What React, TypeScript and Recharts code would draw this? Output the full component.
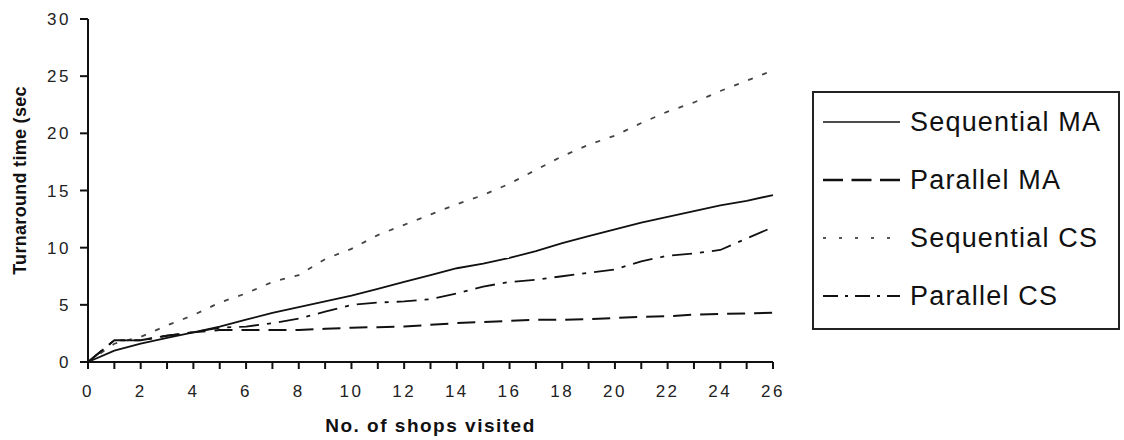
import React from 'react';
import { LineChart, Line, XAxis, YAxis } from 'recharts';

const shops = [0, 1, 2, 3, 4, 5, 6, 7, 8, 9, 10, 11, 12, 13, 14, 15, 16, 17, 18, 19, 20, 21, 22, 23, 24, 25, 26];
const sequentialMA = [0, 1.0, 1.6, 2.1, 2.6, 3.1, 3.7, 4.3, 4.8, 5.3, 5.8, 6.4, 7.0, 7.6, 8.2, 8.6, 9.1, 9.7, 10.4, 11.0, 11.6, 12.2, 12.7, 13.2, 13.7, 14.1, 14.6];
const parallelMA = [0, 1.9, 1.9, 2.3, 2.6, 2.8, 2.8, 2.8, 2.8, 2.9, 3.0, 3.05, 3.1, 3.25, 3.4, 3.5, 3.6, 3.7, 3.7, 3.75, 3.85, 3.95, 4.0, 4.15, 4.2, 4.25, 4.3];
const sequentialCS = [0, 1.6, 2.2, 3.2, 4.1, 5.2, 6.0, 7.0, 7.6, 9.0, 9.9, 11.1, 12.0, 12.9, 13.8, 14.6, 15.6, 16.8, 18.0, 19.0, 19.8, 20.9, 21.9, 22.7, 23.7, 24.6, 25.5];
const parallelCS = [0, 1.9, 1.9, 2.3, 2.6, 3.0, 3.1, 3.4, 3.8, 4.4, 5.0, 5.2, 5.3, 5.5, 6.0, 6.6, 7.0, 7.2, 7.5, 7.8, 8.1, 8.8, 9.3, 9.5, 9.8, 10.8, 11.8];
const yTicks = [0, 5, 10, 15, 20, 25, 30];
const xTicks = shops;

const seriesNames = ['Sequential MA', 'Parallel MA', 'Sequential CS', 'Parallel CS'];

const data = shops.map((s, i) => ({
  shops: s,
  seqMA: sequentialMA[i],
  parMA: parallelMA[i],
  seqCS: sequentialCS[i],
  parCS: parallelCS[i],
}));

const FONT = '"Liberation Sans", Arial, sans-serif';

const legendItems = [
  { name: seriesNames[0], dash: undefined as string | undefined, color: '#111', width: 1.6 },
  { name: seriesNames[1], dash: '20 8.5', color: '#111', width: 2.4 },
  { name: seriesNames[2], dash: '3 13', color: '#555', width: 1.8 },
  { name: seriesNames[3], dash: '15 7 3 7', color: '#111', width: 2.2 },
];

const LegendBox = () => (
  <div
    style={{
      position: 'absolute',
      left: 812,
      top: 91,
      width: 308,
      height: 239,
      border: '2px solid #222',
      boxSizing: 'border-box',
      fontFamily: FONT,
      background: '#fff',
    }}
  >
    {legendItems.map((it) => (
      <div key={it.name} style={{ height: 58, display: 'flex', alignItems: 'center' }}>
        <svg width={77} height={10} style={{ marginLeft: 9, marginRight: 10 }}>
          <line x1={0} y1={5} x2={77} y2={5} stroke={it.color} strokeWidth={it.width} strokeDasharray={it.dash} />
        </svg>
        <span style={{ fontSize: 27, letterSpacing: 1.2, color: '#111', lineHeight: 1 }}>{it.name}</span>
      </div>
    ))}
  </div>
);

const YTitle = (props: any) => {
  const vb = props.viewBox || {};
  const cx = vb.x - 8;
  const cy = vb.y + vb.height / 2 - 10;
  return (
    <text
      x={cx}
      y={cy}
      transform={`rotate(-90, ${cx}, ${cy})`}
      textAnchor="middle"
      dominantBaseline="central"
      style={{ fontFamily: FONT, fontSize: 18, fontWeight: 'bold', letterSpacing: 0.3, fill: '#111' }}
    >
      Turnaround time (sec
    </text>
  );
};

const XTitle = (props: any) => {
  const vb = props.viewBox || {};
  const cx = vb.x + vb.width / 2;
  const cy = vb.y + 63;
  return (
    <text
      x={cx}
      y={cy}
      textAnchor="middle"
      dominantBaseline="central"
      style={{ fontFamily: FONT, fontSize: 19, fontWeight: 'bold', letterSpacing: 1.5, fill: '#111' }}
    >
      No. of shops visited
    </text>
  );
};

export default function App() {
  return (
    <div style={{ position: 'absolute', left: 0, top: 0, width: 1124, height: 440, background: '#fff' }}>
      <LineChart
        width={1124}
        height={440}
        data={data}
        margin={{ top: 19, right: 351, bottom: 38, left: 28 }}
      >
        <XAxis
          dataKey="shops"
          type="number"
          domain={[0, 26]}
          ticks={xTicks}
          interval={0}
          tickFormatter={(v: number) => (v % 2 === 0 ? String(v) : '')}
          height={40}
          stroke="#111"
          strokeWidth={2}
          tickSize={7}
          tickMargin={16}
          tick={{ fill: '#222', fontSize: 17, fontFamily: FONT, letterSpacing: 2.5 }}
          tickLine={{ stroke: '#111', strokeWidth: 2 }}
          label={<XTitle />}
        />
        <YAxis
          type="number"
          domain={[0, 30]}
          ticks={yTicks}
          interval={0}
          width={60}
          stroke="#111"
          strokeWidth={2}
          tickSize={8}
          tickMargin={9}
          tick={{ fill: '#222', fontSize: 17, fontFamily: FONT, letterSpacing: 2.5 }}
          tickLine={{ stroke: '#111', strokeWidth: 2 }}
          label={<YTitle />}
        />
        <Line type="linear" dataKey="seqMA" name={seriesNames[0]} stroke="#111" strokeWidth={1.8} dot={false} isAnimationActive={false} />
        <Line type="linear" dataKey="parMA" name={seriesNames[1]} stroke="#111" strokeWidth={2} strokeDasharray="18 9" dot={false} isAnimationActive={false} />
        <Line type="linear" dataKey="seqCS" name={seriesNames[2]} stroke="#444" strokeWidth={1.8} strokeDasharray="5 10" dot={false} isAnimationActive={false} />
        <Line type="linear" dataKey="parCS" name={seriesNames[3]} stroke="#111" strokeWidth={1.8} strokeDasharray="20 8 4 8" dot={false} isAnimationActive={false} />
      </LineChart>
      <LegendBox />
    </div>
  );
}
